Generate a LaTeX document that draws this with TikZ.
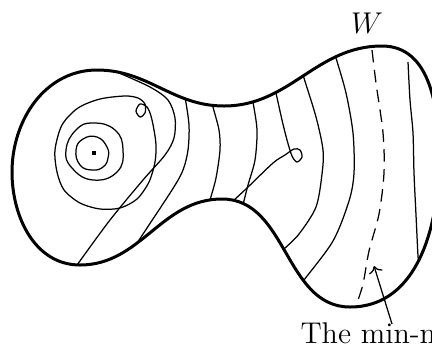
\documentclass[tikz,border=0pt]{standalone}
\usepackage{tikz}
\usetikzlibrary{arrows.meta}

\newcommand{\wallpath}{(97,70) to[out=0, in=180] (224,106) to[out=0, in=180] (382,46)
  to[out=0, in=90] (439,158) to[out=-90, in=0] (350,307) to[out=180, in=0] (222,199)
  to[out=180, in=0] (80,265) to[out=180, in=-90] (12,172) to[out=90, in=180] cycle}

\begin{document}
\begin{tikzpicture}[x=0.4pt, y=-0.4pt,
  wall/.style={line width=1.2pt},
  contour/.style={line width=0.5pt},
  critical/.style={contour, dash pattern=on 5pt off 3pt}]
  \useasboundingbox (0,0) rectangle (432,348);
  \clip (0,0) rectangle (432,348);
  % level sets of the function on W
  \begin{scope}
    \clip \wallpath;
    \draw[contour] plot[smooth cycle, tension=0.8] coordinates {(76,150) (83,139) (97,137) (107,147) (108,158) (103,167) (92,170) (80,165)};
    \draw[contour] plot[smooth cycle, tension=0.8] coordinates {(66,150) (76,130) (93,123) (115,130) (123,150) (117,172) (93,180) (72,168)};
    \draw[contour] plot[smooth cycle] coordinates {(55,150) (62,125) (78,108) (100,99) (125,96) (138,98) (145,104) (145,113) (140,117) (136,111) (140,104) (147,107) (151,116) (154,130) (156,145) (155,162) (149,182) (137,199) (120,208) (100,209) (80,203) (64,190) (57,172)};
    \draw[contour] plot[smooth] coordinates {(107,67) (117,72) (150,87) (168,100) (175,118) (174,138) (165,155) (143,180) (110,220) (77,265) (72,272)};
    \draw[contour] plot[smooth] coordinates {(183,90) (185,97) (189,125) (188,150) (183,170) (172,190) (133,249) (128,256)};
    \draw[contour] plot[smooth] coordinates {(212,100) (213,107) (219,130) (220,150) (216,178) (210,200) (208,207)};
    \draw[contour] plot[smooth] coordinates {(252,95) (253,102) (257,130) (255,160) (248,185) (243,205) (242,212)};
    \draw[contour] plot[smooth] coordinates {(276,93) (282,120) (287,140) (292,156) (297,162) (302,157) (300,150) (294,149) (285,155) (273,163) (247,188) (233,201) (227,207)};
    \draw[contour] plot[smooth] coordinates {(301,68) (303,75) (316,117) (323,150) (322,174) (316,207) (299,234) (283,250) (278,256)};
    \draw[contour] plot[smooth] coordinates {(334,52) (336,58) (346,93) (353,133) (354,173) (349,201) (333,241) (304,280) (300,286)};
    \draw[critical] plot[smooth] coordinates {(372,50) (376,83) (383,133) (384,173) (379,214) (369,251) (363,284) (356,306) (354,313)};
    \draw[contour] plot[smooth] coordinates {(408,62) (410,100) (413,133) (414,173) (416,215) (418,256) (419,265)};
  \end{scope}
  \draw[wall] \wallpath;
  \fill (92,151) rectangle (96,155);
  \node (W) at (367,33) [anchor=base, font=\large] {$W$};
  \node (minmax) at (300,343) [anchor=base west, inner sep=0pt, font=\large] {The min-m};
  \coordinate (tail) at (392,324);
  \coordinate (tip) at (374,266);
  \draw[contour, ->] (tail) -- (tip);
\end{tikzpicture}
\end{document}
